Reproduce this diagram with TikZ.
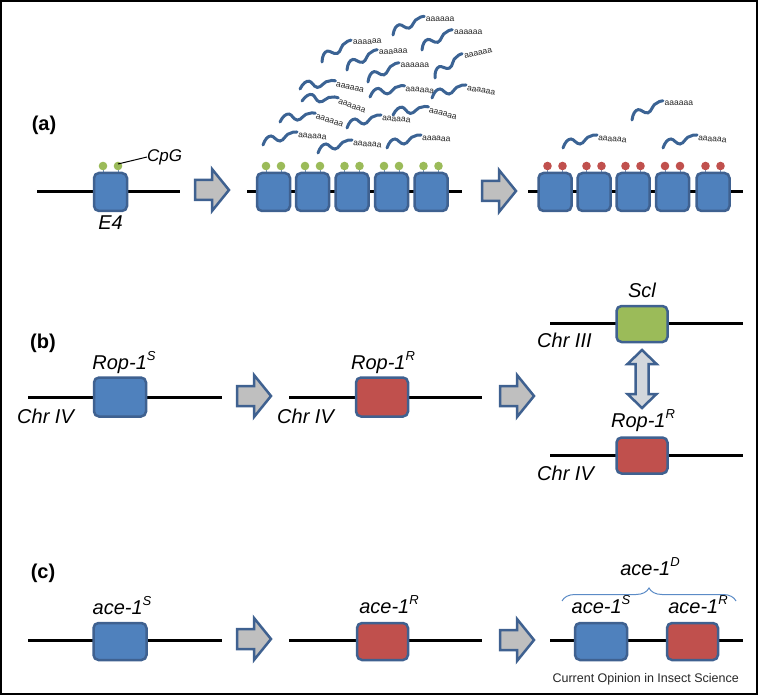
\documentclass[tikz,border=0pt]{standalone}
\usepackage{fontspec}
\setmainfont{Liberation Sans}
\usetikzlibrary{decorations.pathreplacing}
\definecolor{boxblue}{HTML}{4F81BD}
\definecolor{boxred}{HTML}{C0504D}
\definecolor{boxgreen}{HTML}{9BBB59}
\definecolor{edgeblue}{HTML}{3F6190}
\definecolor{arrowgray}{HTML}{BFBFBF}
\definecolor{dblgray}{HTML}{D3D7DC}
\definecolor{rnacol}{HTML}{3B6394}
\definecolor{stemcol}{HTML}{7090BC}
\definecolor{bracecol}{HTML}{5B8BC6}
\newcommand\sps[1]{\raisebox{0.42em}{\fontsize{13}{13}\selectfont #1}}
\tikzset{
  genebox/.style={draw=edgeblue, line width=2.5, rounded corners=5, inner sep=0},
  chrom/.style={line width=3, black},
  blk/.style={draw=edgeblue, fill=arrowgray, line width=2.5, line join=miter},
  dblk/.style={draw=edgeblue, fill=dblgray, line width=2.5, line join=miter},
  lab/.style={font=\itshape\fontsize{20}{24}\selectfont, inner sep=0},
  panel/.style={font=\bfseries\fontsize{20}{24}\selectfont, inner sep=0},
  rna/.style={draw=rnacol, line width=3, line cap=round},
  polya/.style={font=\fontsize{8.5}{10}\selectfont, inner sep=0, anchor=west, text=black!85},
  stem/.style={draw=stemcol, line width=1},
}
\newcommand\mrna[5]{%
  \begin{scope}[shift={(#2,#3)},rotate=#4]
    \draw[rna] (0,0) .. controls (2,-6) and (5,-9) .. (8,-9) .. controls (11,-9) and (13,-4) .. (17,-4) .. controls (21,-4) and (23,-12) .. (28,-12) .. controls (30,-13) .. (34,-13);
    \node[polya,rotate=#5] (#1) at (35,-10) {aaaaaa};
  \end{scope}}
\newcommand\cpggene[4]{%
  \draw[stem] (#2-7.5,166) -- (#2-7.5,175);
  \draw[stem] (#2+7.5,166) -- (#2+7.5,175);
  \fill[#3] (#2-7.5,166) circle[radius=4.3pt];
  \fill[#3] (#2+7.5,166) circle[radius=4.3pt];
  \node[genebox, fill=#4, minimum width=33, minimum height=38] (#1) at (#2,192) {};}
\newcommand\blockarrow[2]{%
  \draw[blk] (#1,#2-10) -- (#1+17,#2-10) -- (#1+17,#2-21) -- (#1+34,#2) -- (#1+17,#2+21) -- (#1+17,#2+10) -- (#1,#2+10) -- cycle;}
\begin{document}
\begin{tikzpicture}[x=1pt,y=-1pt]
\useasboundingbox (0,0) rectangle (758,695);
\draw[line width=2] (1,1) rectangle (757,694);

% ---------------- (a)
\node[panel] (pa) at (44,125) {(a)};
\coordinate (a1l) at (37,192); \coordinate (a1r) at (180,192);
\coordinate (a2l) at (247,192); \coordinate (a2r) at (462,192);
\coordinate (a3l) at (528,192); \coordinate (a3r) at (743,192);
\draw[chrom] (a1l) -- (a1r);
\draw[chrom] (a2l) -- (a2r);
\draw[chrom] (a3l) -- (a3r);
\cpggene{e4}{110.5}{boxgreen}{boxblue}
\cpggene{m1}{273.5}{boxgreen}{boxblue}
\cpggene{m2}{312.5}{boxgreen}{boxblue}
\cpggene{m3}{352}{boxgreen}{boxblue}
\cpggene{m4}{391.5}{boxgreen}{boxblue}
\cpggene{m5}{431}{boxgreen}{boxblue}
\cpggene{r1}{555}{boxred}{boxblue}
\cpggene{r2}{594}{boxred}{boxblue}
\cpggene{r3}{633}{boxred}{boxblue}
\cpggene{r4}{672.5}{boxred}{boxblue}
\cpggene{r5}{713}{boxred}{boxblue}
\node[lab] (e4lab) at (110.5,223) {E4};
\node[lab, font=\itshape\fontsize{17}{20}\selectfont, anchor=west] (cpg) at (147,157) {CpG};
\draw[line width=1] (118,164) -- (cpg.west);
\blockarrow{195}{190}
\blockarrow{482}{191}
% transcripts
\mrna{t1}{393}{35}{10}{0}
\mrna{t2}{422}{50}{13}{0}
\mrna{t3}{322}{62}{16}{3}
\mrna{t4}{347}{70}{13}{3}
\mrna{t5}{435}{78}{21}{12}
\mrna{t6}{368}{82}{11}{0}
\mrna{t7}{300}{89}{-8}{-14}
\mrna{t8}{370}{97}{-3}{-5}
\mrna{t9}{432}{98}{0}{-10}
\mrna{t10}{302}{101}{-16}{-20}
\mrna{t11}{393}{115}{-8}{-15}
\mrna{t12}{280}{122}{-7}{-18}
\mrna{t13}{347}{128}{0}{-5}
\mrna{t14}{263}{145}{0}{-5}
\mrna{t15}{318}{153}{0}{-5}
\mrna{t16}{387}{148}{0}{-3}
\mrna{u1}{632}{120}{11}{0}
\mrna{u2}{563}{148}{0}{-5}
\mrna{u3}{663}{148}{0}{-5}

% ---------------- (b)
\node[panel] (pb) at (43,343) {(b)};
\coordinate (b1l) at (28,397); \coordinate (b1r) at (222,397);
\coordinate (b2l) at (289,397); \coordinate (b2r) at (482,397);
\coordinate (b3l) at (550,323); \coordinate (b3r) at (743,323);
\coordinate (b4l) at (550,455); \coordinate (b4r) at (743,455);
\draw[chrom] (b1l) -- (b1r);
\draw[chrom] (b2l) -- (b2r);
\draw[chrom] (b3l) -- (b3r);
\draw[chrom] (b4l) -- (b4r);
\node[genebox, fill=boxblue, minimum width=52, minimum height=39] (rops) at (120,397) {};
\node[genebox, fill=boxred, minimum width=52, minimum height=39] (ropr) at (382,397) {};
\node[genebox, fill=boxgreen, minimum width=51, minimum height=36] (scl) at (642,324) {};
\node[genebox, fill=boxred, minimum width=51, minimum height=36] (ropr2) at (642,455.5) {};
\node[lab, anchor=base] (ropslab) at (124,369) {Rop-1\sps{S}};
\node[lab, anchor=base] (roprlab) at (383,369) {Rop-1\sps{R}};
\node[lab, anchor=base] (scllab) at (642,298) {Scl};
\node[lab, anchor=base] (ropr2lab) at (643,427) {Rop-1\sps{R}};
\node[lab, anchor=base west] (chr1) at (17,423) {Chr IV};
\node[lab, anchor=base west] (chr2) at (277,423) {Chr IV};
\node[lab, anchor=base west] (chr3) at (537,347) {Chr III};
\node[lab, anchor=base west] (chr4) at (537,480) {Chr IV};
\blockarrow{237}{396}
\blockarrow{500}{396}
\draw[dblk] (642,350) -- (656.5,364) -- (648.5,364) -- (648.5,394) -- (656.5,394) -- (642,408) -- (627.5,394) -- (635.5,394) -- (635.5,364) -- (627.5,364) -- cycle;

% ---------------- (c)
\node[panel] (pc) at (43,573) {(c)};
\coordinate (c1l) at (28,640); \coordinate (c1r) at (222,640);
\coordinate (c2l) at (289,640); \coordinate (c2r) at (482,640);
\coordinate (c3l) at (550,640); \coordinate (c3r) at (743,640);
\draw[chrom] (c1l) -- (c1r);
\draw[chrom] (c2l) -- (c2r);
\draw[chrom] (c3l) -- (c3r);
\node[genebox, fill=boxblue, minimum width=53, minimum height=37] (aces) at (120,641.5) {};
\node[genebox, fill=boxred, minimum width=51, minimum height=37] (acer) at (382.5,641.5) {};
\node[genebox, fill=boxblue, minimum width=52, minimum height=37] (aces2) at (601,641.5) {};
\node[genebox, fill=boxred, minimum width=51, minimum height=37] (acer2) at (692.5,641.5) {};
\node[lab, anchor=base] (aceslab) at (122,614) {ace-1\sps{S}};
\node[lab, anchor=base] (acerlab) at (389,613) {ace-1\sps{R}};
\node[lab, anchor=base] (aces2lab) at (601,613) {ace-1\sps{S}};
\node[lab, anchor=base] (acer2lab) at (698,613) {ace-1\sps{R}};
\node[lab, anchor=base] (acedlab) at (650,575) {ace-1\sps{D}};
\coordinate (brl) at (562,601); \coordinate (brr) at (736,601);
\draw[bracecol, line width=1, decorate, decoration={brace, amplitude=13}] (brl) -- (brr);
\blockarrow{237}{639}
\blockarrow{500}{640}
\node[anchor=base east, inner sep=0, font=\fontsize{12.5}{15}\selectfont, text=black!85] (src) at (739,682) {Current Opinion in Insect Science};
\end{tikzpicture}
\end{document}
